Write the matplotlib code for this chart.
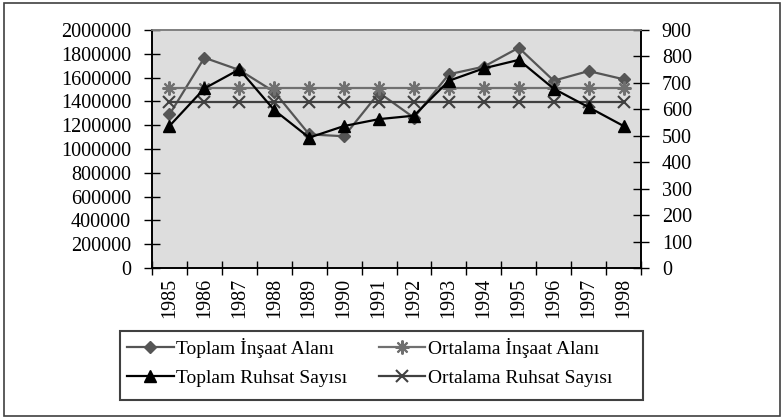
import matplotlib
matplotlib.use("Agg")
import matplotlib.pyplot as plt
from matplotlib.patches import Rectangle
from matplotlib.ticker import FuncFormatter, MultipleLocator, FixedLocator

years = ["1985", "1986", "1987", "1988", "1989", "1990", "1991", "1992",
         "1993", "1994", "1995", "1996", "1997", "1998"]
toplam_insaat = [1290000, 1767000, 1664000, 1481000, 1123000, 1107000, 1473000,
                 1263000, 1628000, 1692000, 1851000, 1574000, 1655000, 1586000]
ortalama_insaat = [1511000] * 14
toplam_ruhsat = [537, 679, 751, 597, 493, 537, 563, 576, 708, 755, 787, 678, 608, 537]
ortalama_ruhsat = [629] * 14

FS = 14.5
plt.rcParams['font.family'] = ['Liberation Serif', 'DejaVu Serif']
plt.rcParams['font.size'] = FS

fig = plt.figure(figsize=(7.82, 4.17), dpi=100)
ax = fig.add_axes([152/782, 1-268/417, (641-152)/782, 238/417])
ax.set_facecolor('#DDDDDD')
ax2 = ax.twinx()

x = list(range(len(years)))
l1, = ax.plot(x, toplam_insaat, color='#555555', lw=1.6, marker='D', ms=6,
              mfc='#555555', mec='#555555', label='Toplam İnşaat Alanı')
l2, = ax.plot(x, ortalama_insaat, color='#707070', lw=1.6, marker=(8, 2, 0), ms=10,
              mec='#707070', mew=1.5, label='Ortalama İnşaat Alanı')
l4, = ax2.plot(x, ortalama_ruhsat, color='#404040', lw=1.6, marker='x', ms=8,
               mec='#404040', mew=1.5, label='Ortalama Ruhsat Sayısı')
l3, = ax2.plot(x, toplam_ruhsat, color='black', lw=1.6, marker='^', ms=8,
               mfc='black', mec='black', label='Toplam Ruhsat Sayısı')

ax.set_xlim(-0.5, len(years) - 0.5)
ax.set_ylim(0, 2000000)
ax2.set_ylim(0, 900)
ax.yaxis.set_major_locator(MultipleLocator(200000))
ax.yaxis.set_major_formatter(FuncFormatter(lambda v, p: f"{int(round(v))}"))
ax2.yaxis.set_major_locator(MultipleLocator(100))
ax2.yaxis.set_major_formatter(FuncFormatter(lambda v, p: f"{int(round(v))}"))

ax.xaxis.set_major_locator(FixedLocator([i - 0.5 for i in range(len(years) + 1)]))
ax.xaxis.set_major_formatter(FuncFormatter(lambda v, p: ""))
ax.set_xticks(x, years, minor=True)
ax.tick_params(axis='x', which='minor', length=0, rotation=90, pad=7, labelsize=FS)
ax.tick_params(axis='x', which='major', direction='inout', length=10, width=1)
ax.tick_params(axis='y', direction='inout', length=12, width=1, pad=9, labelsize=FS)
ax2.tick_params(axis='y', direction='inout', length=12, width=1, pad=9, labelsize=FS)

for a in (ax, ax2):
    for s in ('left', 'right', 'bottom'):
        a.spines[s].set_color('black')
        a.spines[s].set_linewidth(1.2)
    a.spines['top'].set_color('#808080')
    a.spines['top'].set_linewidth(1.2)

leg = fig.legend([l1, l3, l2, l4],
                 ['Toplam İnşaat Alanı', 'Toplam Ruhsat Sayısı',
                  'Ortalama İnşaat Alanı', 'Ortalama Ruhsat Sayısı'],
                 ncol=2, loc='upper left',
                 bbox_to_anchor=(122/782, 1-333/417),
                 frameon=False, fontsize=14,
                 handlelength=2.4, handletextpad=0.15, borderpad=0.25,
                 borderaxespad=0, labelspacing=0.6, columnspacing=1.6)

fig.patches.append(Rectangle((120/782, 1-400/417), (643-120)/782, (400-331)/417,
                             transform=fig.transFigure, fill=False,
                             edgecolor='#404040', lw=1.5))
fig.patches.append(Rectangle((4/782, 1/417), 776/782, 413/417, transform=fig.transFigure,
                             fill=False, edgecolor='#404040', lw=1.2))

fig.savefig('out.png', dpi=100)
